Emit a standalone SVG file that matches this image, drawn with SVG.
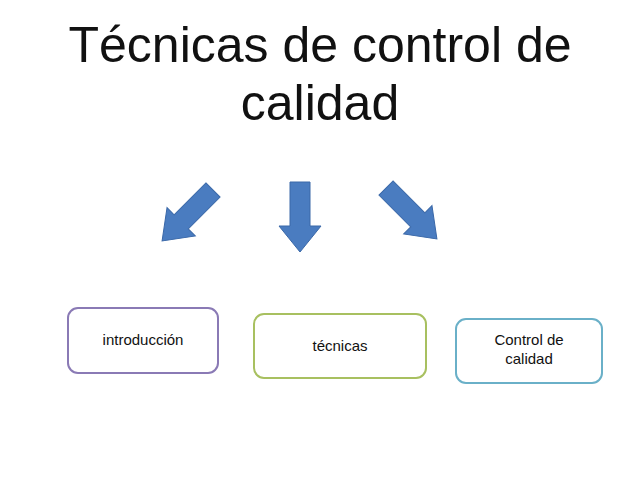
<svg xmlns="http://www.w3.org/2000/svg" width="640" height="478" viewBox="0 0 640 478">
<style>
.t{font-family:"Liberation Sans",Arial,sans-serif;fill:#111;text-anchor:middle}
.b{fill:#fff;stroke-width:2}
.a{fill:#4a7cc0;stroke:#3a68a8;stroke-width:1}
</style>
<rect width="640" height="478" fill="#fff"/>
<g id="title">
<text class="t" x="320" y="62" font-size="50">Técnicas de control de</text>
<text class="t" x="320" y="120" font-size="50">calidad</text>
</g>
<g id="connectors">
<polygon class="a" points="290,182 310,182 310,226 321,226 300,252 279,226 290,226"/>
<g transform="translate(213,190) rotate(45)"><polygon class="a" points="-10,0 10,0 10,45 20,45 0,72 -20,45 -10,45"/></g>
<g transform="translate(386,188) rotate(-45)"><polygon class="a" points="-10,0 10,0 10,45 20,45 0,72 -20,45 -10,45"/></g>
</g>
<g id="n1"><rect class="b" x="68" y="308" width="150" height="65" rx="10" stroke="#8a7ab5"/><text class="t" x="143" y="345" font-size="15">introducción</text></g>
<g id="n2"><rect class="b" x="254" y="314" width="172" height="64" rx="10" stroke="#a8c060"/><text class="t" x="340" y="351" font-size="15">técnicas</text></g>
<g id="n3"><rect class="b" x="456" y="319" width="146" height="64" rx="10" stroke="#6ab0c8"/><text class="t" x="529" y="345" font-size="15">Control de</text><text class="t" x="529" y="364" font-size="15">calidad</text></g>
</svg>
